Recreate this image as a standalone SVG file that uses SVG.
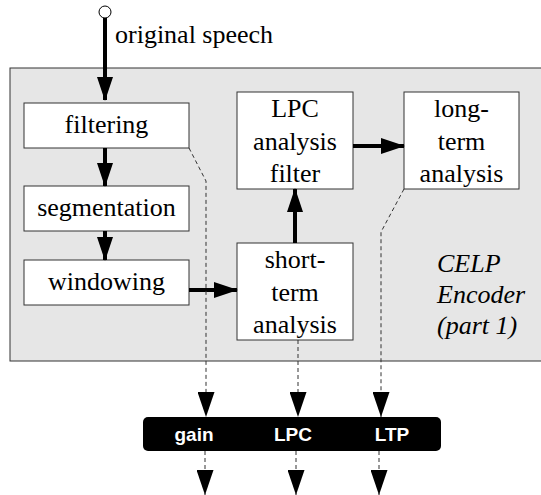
<svg xmlns="http://www.w3.org/2000/svg" width="541" height="495" viewBox="0 0 541 495">
<style>
.box{fill:#fff;stroke:#333;stroke-width:1}
.t{font-size:26px;fill:#000;text-anchor:middle}
.it{font-size:26px;font-style:italic;fill:#000}
.thick{stroke:#000;stroke-width:4;fill:none}
.dash{stroke:#333;stroke-width:1;stroke-dasharray:4,3;fill:none}
.lab{font-weight:bold;font-size:19px;fill:#fff;text-anchor:middle}
</style>
<defs>
<marker id="ah" markerWidth="24" markerHeight="16" refX="23" refY="8" orient="auto" markerUnits="userSpaceOnUse" viewBox="0 0 24 16">
<path d="M0,0 L24,8 L0,16 Z" fill="#000"/>
</marker>
<marker id="ahd" markerWidth="25" markerHeight="17" refX="25" refY="8.5" orient="auto" markerUnits="userSpaceOnUse" viewBox="0 0 25 17">
<path d="M0,0 L25,8.5 L0,17 Z" fill="#000"/>
</marker>
</defs>
<rect x="10" y="68" width="540" height="293" fill="#e6e6e6" stroke="#333" stroke-width="1"/>
<g font-family="'Liberation Serif', 'Times New Roman', 'DejaVu Serif', serif">
<g id="input">
<circle cx="105" cy="12" r="6" fill="#fff" stroke="#000" stroke-width="1"/>
<text x="115" y="43" class="t" style="text-anchor:start">original speech</text>
</g>
<g id="filtering"><rect class="box" x="24" y="103" width="165" height="45"/><text class="t" x="106.5" y="133">filtering</text></g>
<g id="segmentation"><rect class="box" x="24" y="186" width="165" height="45"/><text class="t" x="106.5" y="216">segmentation</text></g>
<g id="windowing"><rect class="box" x="24" y="260" width="165" height="45"/><text class="t" x="106.5" y="290">windowing</text></g>
<g id="lpc"><rect class="box" x="237" y="92" width="116" height="97"/><text class="t" x="295" y="117">LPC</text><text class="t" x="295" y="150">analysis</text><text class="t" x="295" y="182">filter</text></g>
<g id="longterm"><rect class="box" x="404" y="92" width="115" height="97"/><text class="t" x="461.5" y="117">long-</text><text class="t" x="461.5" y="150">term</text><text class="t" x="461.5" y="182">analysis</text></g>
<g id="shortterm"><rect class="box" x="237" y="243" width="116" height="97"/><text class="t" x="295" y="268">short-</text><text class="t" x="295" y="301">term</text><text class="t" x="295" y="333">analysis</text></g>
<g id="celp"><text class="it" x="437" y="272">CELP</text><text class="it" x="437" y="303">Encoder</text><text class="it" x="437" y="334">(part 1)</text></g>
</g>
<g id="bar" font-family="'Liberation Sans', Arial, Helvetica, sans-serif"><rect x="143" y="417" width="298" height="34" rx="5" fill="#000"/><text class="lab" x="194" y="441">gain</text><text class="lab" x="293" y="441">LPC</text><text class="lab" x="392" y="441">LTP</text></g>
<g id="connectors">
<path class="thick" d="M105,18 V100" marker-end="url(#ah)"/>
<path class="thick" d="M105,148 V186" marker-end="url(#ah)"/>
<path class="thick" d="M105,231 V260" marker-end="url(#ah)"/>
<path class="thick" d="M189,290 H237" marker-end="url(#ah)"/>
<path class="thick" d="M295,243 V189" marker-end="url(#ah)"/>
<path class="thick" d="M353,146 H404" marker-end="url(#ah)"/>
<path class="dash" d="M189,148 L206,181 V417" marker-end="url(#ahd)"/>
<path class="dash" d="M298,340 V417" marker-end="url(#ahd)"/>
<path class="dash" d="M404,189 L381,232 V417" marker-end="url(#ahd)"/>
<path class="dash" d="M205,451 V495" marker-end="url(#ahd)"/>
<path class="dash" d="M296,451 V495" marker-end="url(#ahd)"/>
<path class="dash" d="M379,451 V495" marker-end="url(#ahd)"/>
</g>
</svg>
